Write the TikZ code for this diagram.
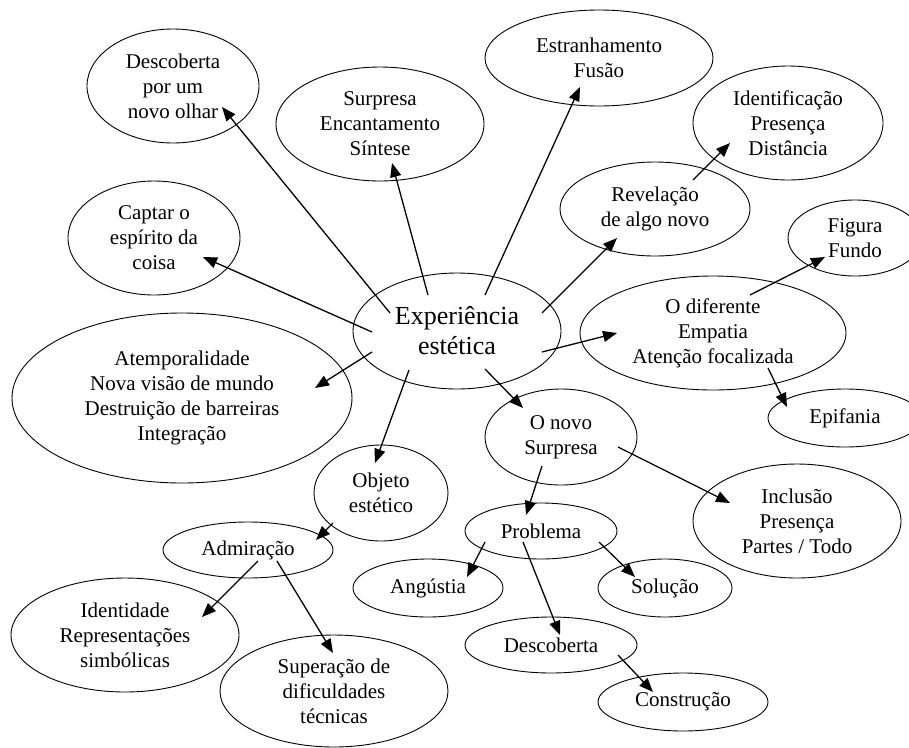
\documentclass[tikz,border=0pt]{standalone}
\usepackage{fontspec}
\setmainfont{Liberation Serif}
\usetikzlibrary{shapes.geometric,arrows.meta,calc}
\tikzset{
  bub/.style={draw, line width=0.9pt, ellipse, inner sep=0pt, align=center,
    font=\fontsize{21}{25}\selectfont},
  arr/.style={line width=1.3pt, -{Triangle[length=14pt,width=11pt]}},
}
\begin{document}
\begin{tikzpicture}[x=1pt,y=-1pt]
\useasboundingbox[fill=white] (0,0) rectangle (909,747);
\begin{scope}
\clip (0,0) rectangle (909,747);
\node[bub, minimum width=208, minimum height=116, font=\fontsize{26}{30}\selectfont] (exp) at (457,331) {Experiência\\estética};
\node[bub, minimum width=172, minimum height=114] (desc1) at (173,86) {Descoberta\\por um\\novo olhar};
\node[bub, minimum width=208, minimum height=114] (surp) at (380,124) {Surpresa\\Encantamento\\Síntese};
\node[bub, minimum width=228, minimum height=96] (estr) at (599,58) {Estranhamento\\Fusão};
\node[bub, minimum width=190, minimum height=114] (ident) at (788,123) {Identificação\\Presença\\Distância};
\node[bub, minimum width=172, minimum height=114] (captar) at (154,238) {Captar o\\espírito da\\coisa};
\node[bub, minimum width=190, minimum height=94] (revel) at (655,209) {Revelação\\de algo novo};
\node[bub, minimum width=134, minimum height=76] (figura) at (855,238) {Figura\\Fundo};
\node[bub, minimum width=266, minimum height=114] (dif) at (713,333) {O diferente\\Empatia\\Atenção focalizada};
\node[bub, minimum width=340, minimum height=170] (atemp) at (182,398) {Atemporalidade\\Nova visão de mundo\\Destruição de barreiras\\Integração};
\node[bub, minimum width=134, minimum height=96] (objeto) at (381,493) {Objeto\\estético};
\node[bub, minimum width=152, minimum height=96] (novo) at (561,437) {O novo\\Surpresa};
\node[bub, minimum width=154, minimum height=58] (epif) at (845,418) {Epifania};
\node[bub, minimum width=170, minimum height=56] (admir) at (248,550) {Admiração};
\node[bub, minimum width=152, minimum height=56] (probl) at (541,531) {Problema};
\node[bub, minimum width=208, minimum height=114] (incl) at (797,521) {Inclusão\\Presença\\Partes / Todo};
\node[bub, minimum width=150, minimum height=58] (ang) at (428,588) {Angústia};
\node[bub, minimum width=134, minimum height=58] (sol) at (665,588) {Solução};
\node[bub, minimum width=228, minimum height=114] (identi) at (125,635) {Identidade\\Representações\\simbólicas};
\node[bub, minimum width=172, minimum height=56] (desc2) at (551,645) {Descoberta};
\node[bub, minimum width=228, minimum height=112] (super) at (334,691) {Superação de\\dificuldades\\técnicas};
\node[bub, minimum width=170, minimum height=58] (constr) at (683,702) {Construção};

\draw[arr] ($(exp)+(-67,-18)$) -- ($(desc1)+(49,21)$);
\draw[arr] ($(exp)+(-29,-36)$) -- ($(surp)+(12,39)$);
\draw[arr] ($(exp)+(-85,1)$) -- ($(captar)+(49,19)$);
\draw[arr] ($(exp)+(28,-36)$) -- ($(estr)+(-19,29)$);
\draw[arr] ($(exp)+(85,-18)$) -- ($(revel)+(-38,29)$);
\draw[arr] ($(exp)+(85,21)$) -- ($(dif)+(-96,0)$);
\draw[arr] ($(dif)+(37,-38)$) -- ($(figura)+(-30,19)$);
\draw[arr] ($(revel)+(38,-29)$) -- ($(ident)+(-58,20)$);
\draw[arr] ($(dif)+(55,35)$) -- ($(epif)+(-58,-11)$);
\draw[arr] ($(exp)+(-85,21)$) -- ($(atemp)+(133,-10)$);
\draw[arr] ($(exp)+(-48,39)$) -- ($(objeto)+(-6,-30)$);
\draw[arr] ($(exp)+(28,38)$) -- ($(novo)+(-38,-29)$);
\draw[arr] ($(novo)+(57,10)$) -- ($(incl)+(-67,-18)$);
\draw[arr] ($(novo)+(-19,29)$) -- ($(probl)+(-15,-16)$);
\draw[arr] ($(probl)+(-56,11)$) -- ($(ang)+(39,-11)$);
\draw[arr] ($(probl)+(58,11)$) -- ($(sol)+(-30,-11)$);
\draw[arr] ($(probl)+(-18,11)$) -- ($(desc2)+(9,-10)$);
\draw[arr] ($(desc2)+(67,10)$) -- ($(constr)+(-30,-10)$);
\draw[arr] ($(objeto)+(-48,30)$) -- ($(admir)+(68,-10)$);
\draw[arr] ($(admir)+(10,11)$) -- ($(identi)+(77,-18)$);
\draw[arr] ($(admir)+(29,11)$) -- ($(super)+(-1,-38)$);
\end{scope}
\end{tikzpicture}
\end{document}
